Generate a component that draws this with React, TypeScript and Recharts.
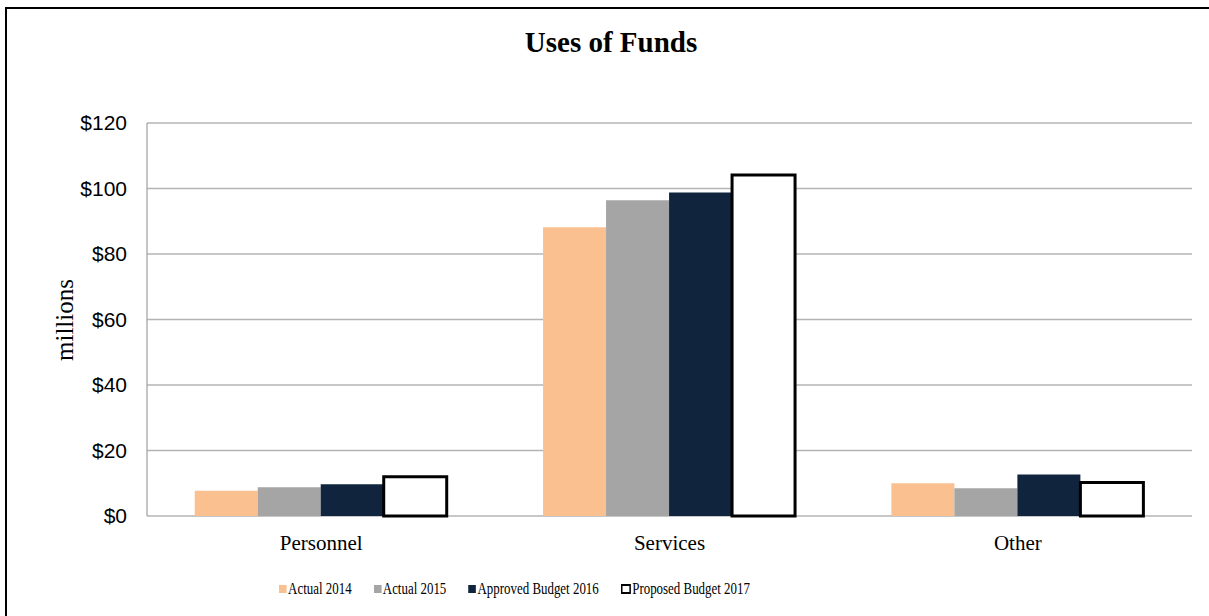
import React from 'react';
import { BarChart, Bar, XAxis, YAxis, CartesianGrid } from 'recharts';

const categories = ['Personnel', 'Services', 'Other'];
const actual2014 = [7.7, 88.2, 10.0];
const actual2015 = [8.8, 96.4, 8.5];
const approved2016 = [9.7, 98.8, 12.7];
const proposed2017 = [12.0, 104.1, 10.2];
const yTicks = [0, 20, 40, 60, 80, 100, 120];

const seriesNames = ['Actual 2014', 'Actual 2015', 'Approved Budget 2016', 'Proposed Budget 2017'];
const seriesKeys = ['a2014', 'a2015', 'b2016', 'p2017'];
const seriesFill = ['#FAC090', '#A5A5A5', '#10243E', '#FFFFFF'];

const chartData = categories.map((name, i) => ({
    name,
    a2014: actual2014[i],
    a2015: actual2015[i],
    b2016: approved2016[i],
    p2017: proposed2017[i],
}));

const serif = '"Liberation Serif", "Times New Roman", serif';
const sans = '"Liberation Sans", Arial, sans-serif';

const App: React.FC = () => {
    return (
        <div style={{ position: 'absolute', left: 0, top: 0, width: 1209, height: 616, overflow: 'hidden', background: '#fff' }}>
            {/* outer frame, only top and left edges are inside the picture */}
            <div style={{ position: 'absolute', left: 5, top: 7, width: 1204, height: 609, borderTop: '2.5px solid #000', borderLeft: '2.5px solid #000', boxSizing: 'border-box' }} />

            <div style={{ position: 'absolute', left: 0, width: 1222, top: 26, textAlign: 'center', fontFamily: serif, fontWeight: 'bold', fontSize: 29, color: '#000' }}>
                Uses of Funds
            </div>

            <div style={{ position: 'absolute', left: 65, top: 320, transform: 'translate(-50%, -50%) rotate(-90deg)', fontFamily: serif, fontSize: 25, color: '#000', whiteSpace: 'nowrap' }}>
                millions
            </div>

            <div style={{ position: 'absolute', left: 0, top: 0 }}>
                <BarChart
                    width={1209}
                    height={616}
                    data={chartData}
                    margin={{ top: 123, right: 17, left: 87, bottom: 60 }}
                    barCategoryGap="13.7%"
                    barGap={0}
                >
                    <CartesianGrid vertical={false} stroke="#B4B4B4" strokeWidth={1.3} />
                    <XAxis
                        dataKey="name"
                        height={40}
                        tickLine={false}
                        tickSize={0}
                        tickMargin={19}
                        axisLine={false}
                        tick={{ fontFamily: serif, fontSize: 21, fill: '#000' }}
                    />
                    <YAxis
                        width={60}
                        domain={[0, 120]}
                        ticks={yTicks}
                        tickLine={false}
                        tickSize={0}
                        tickMargin={20}
                        axisLine={{ stroke: '#A6A6A6', strokeWidth: 1.3 }}
                        tickFormatter={(v: number) => `$${v}`}
                        tick={{ fontFamily: sans, fontSize: 21, fill: '#000' }}
                    />
                    {seriesKeys.map((k, i) => (
                        <Bar
                            key={k}
                            dataKey={k}
                            name={seriesNames[i]}
                            fill={seriesFill[i]}
                            stroke={i === 3 ? '#000' : 'none'}
                            strokeWidth={i === 3 ? 3 : 0}
                            isAnimationActive={false}
                        />
                    ))}
                </BarChart>
            </div>

            {/* legend */}
            <div style={{ position: 'absolute', left: 279, top: 579, display: 'flex', alignItems: 'center', gap: 29, fontFamily: serif, fontSize: 17, color: '#000', whiteSpace: 'nowrap', transform: 'scaleX(0.76)', transformOrigin: 'left center' }}>
                {seriesNames.map((n, i) => (
                    <div key={n} style={{ display: 'flex', alignItems: 'center' }}>
                        <span style={{
                            display: 'inline-block',
                            width: i === 3 ? 13 : 10,
                            height: i === 3 ? 10 : 8,
                            background: seriesFill[i],
                            border: i === 3 ? '2px solid #000' : 'none',
                            boxSizing: 'border-box',
                            marginRight: 2,
                        }} />
                        <span>{n}</span>
                    </div>
                ))}
            </div>
        </div>
    );
};

export default App;
